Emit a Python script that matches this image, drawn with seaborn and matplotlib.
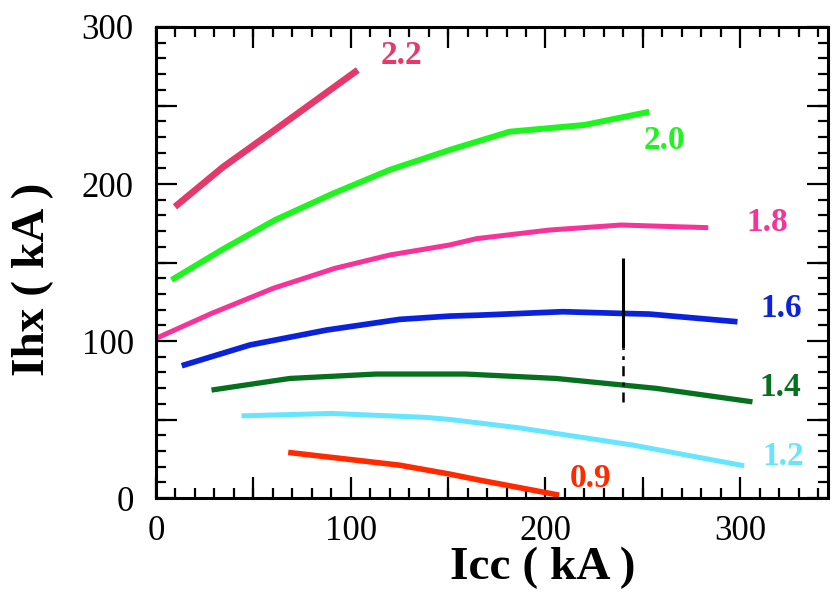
import matplotlib
matplotlib.use("Agg")
import matplotlib.pyplot as plt
import seaborn as sns
import pandas as pd
from matplotlib.ticker import MultipleLocator, FixedLocator

# ---- data ----
x_22 = [9.7, 34.4, 60, 103.6]
y_22 = [185.5, 210.8, 233.5, 272.6]

x_20 = [8, 33.7, 61, 91, 120, 150.8, 181.5, 220, 253.3]
y_20 = [138.9, 158, 177, 194, 209, 221.7, 233.3, 237.6, 246]

x_18 = [0, 28.5, 60.2, 91.8, 120, 150.8, 164.5, 202, 238.8, 283.6]
y_18 = [101.7, 117.6, 133.6, 146.3, 154.8, 161.2, 165.2, 170.7, 173.9, 172.2]

x_16 = [13.2, 48.2, 87.5, 125, 150.8, 166, 208.9, 239.7, 253.3, 298.6]
y_16 = [84.3, 97.5, 107, 113.8, 115.9, 116.5, 118.7, 117.6, 117.2, 112.3]

x_14 = [28.5, 68.7, 113, 159, 205.5, 239.7, 256.8, 306.3]
y_14 = [68.8, 76.2, 79, 79, 76.2, 72, 69.9, 61.3]

x_12 = [43.9, 90.1, 138.8, 150.8, 185, 244.8, 302]
y_12 = [52.4, 53.9, 51.4, 50.1, 45, 33.8, 20.6]

x_09 = [67.9, 125, 150.8, 166, 207]
y_09 = [29.1, 21, 15.3, 11.5, 1.9]

series_names = ["2.2", "2.0", "1.8", "1.6", "1.4", "1.2", "0.9"]
series_x = [x_22, x_20, x_18, x_16, x_14, x_12, x_09]
series_y = [y_22, y_20, y_18, y_16, y_14, y_12, y_09]
series_colors = ["#e5396b", "#1ef51e", "#f7339a", "#0a22dc", "#06701f", "#66e5ff", "#ff2a00"]
series_lw = [4.8, 4.3, 3.6, 4.1, 3.8, 3.6, 4.0]
label_pos = [(126, 282), (261, 227.5), (314, 175.5), (321, 121), (320.5, 70.5), (322, 26.5), (223, 12.8)]

marker_x = 240
marker_solid = [95.3, 152.8]
marker_dash = [61.3, 95.3]

x_ticks = [0, 100, 200, 300]
y_ticks = [0, 100, 200, 300]

# ---- style ----
sns.set_style("ticks")
plt.rcParams["font.family"] = ["Liberation Serif", "DejaVu Serif"]
plt.rcParams["text.color"] = "black"
plt.rcParams["axes.labelcolor"] = "black"
plt.rcParams["xtick.color"] = "black"
plt.rcParams["ytick.color"] = "black"

fig = plt.figure(figsize=(8.32, 5.93), dpi=100)
ax = fig.add_axes([0.1875, 0.160, 0.8075, 0.7945])

for name, xs, ys, c, lw in zip(series_names, series_x, series_y, series_colors, series_lw):
    df = pd.DataFrame({"Icc": xs, "Ihx": ys})
    sns.lineplot(data=df, x="Icc", y="Ihx", ax=ax, color=c, linewidth=lw,
                 sort=False, estimator=None, solid_capstyle="butt")

for name, (tx, ty), c in zip(series_names, label_pos, series_colors):
    ax.text(tx, ty, name, color=c, fontsize=24, fontweight="bold",
            ha="center", va="center")

# vertical marker
sns.lineplot(x=[marker_x, marker_x], y=marker_solid, ax=ax, color="black",
             linewidth=2.2, estimator=None, solid_capstyle="butt")
ax.plot([marker_x, marker_x], marker_dash, color="black", linewidth=1.8,
        linestyle=(0, (4, 2.5, 1.5, 2.5)))

ax.set_xlim(0, 345)
ax.set_ylim(0, 300)
ax.xaxis.set_major_locator(FixedLocator(x_ticks))
ax.yaxis.set_major_locator(FixedLocator(y_ticks))
ax.xaxis.set_minor_locator(MultipleLocator(10))
ax.yaxis.set_minor_locator(MultipleLocator(10))

ax.tick_params(axis="both", which="major", direction="in", length=15, width=1.6,
               labelsize=25, top=True, right=True, colors="black")
ax.tick_params(axis="x", which="major", pad=12)
ax.tick_params(axis="y", which="major", pad=16)
ax.tick_params(axis="both", which="minor", direction="in", length=7.5, width=1.6,
               top=True, right=True, colors="black")

# additional long ticks at 50, 150, 250 (no labels)
sec_x = ax.secondary_xaxis("bottom")
sec_x.set_xticks([50, 150, 250])
sec_x.tick_params(direction="in", length=15, width=1.6, labelbottom=False, colors="black")
sec_x.spines["bottom"].set_visible(False)
sec_xt = ax.secondary_xaxis("top")
sec_xt.set_xticks([50, 150, 250])
sec_xt.tick_params(direction="in", length=15, width=1.6, labeltop=False, colors="black")
sec_xt.spines["top"].set_visible(False)
sec_y = ax.secondary_yaxis("left")
sec_y.set_yticks([50, 150, 250])
sec_y.tick_params(direction="in", length=15, width=1.6, labelleft=False, colors="black")
sec_y.spines["left"].set_visible(False)
sec_yr = ax.secondary_yaxis("right")
sec_yr.set_yticks([50, 150, 250])
sec_yr.tick_params(direction="in", length=15, width=1.6, labelright=False, colors="black")
sec_yr.spines["right"].set_visible(False)

for s in ax.spines.values():
    s.set_linewidth(2.2)
    s.set_color("black")

ax.set_xlabel("Icc ( kA )", fontsize=34, fontweight="bold", color="black")
ax.set_ylabel("Ihx ( kA )", fontsize=34, fontweight="bold", color="black")
ax.xaxis.label.set_verticalalignment("center")
ax.yaxis.label.set_verticalalignment("center")
ax.xaxis.set_label_coords(0.576, -0.148)
ax.yaxis.set_label_coords(-0.183, 0.465)

fig.savefig("out.png", dpi=100)
